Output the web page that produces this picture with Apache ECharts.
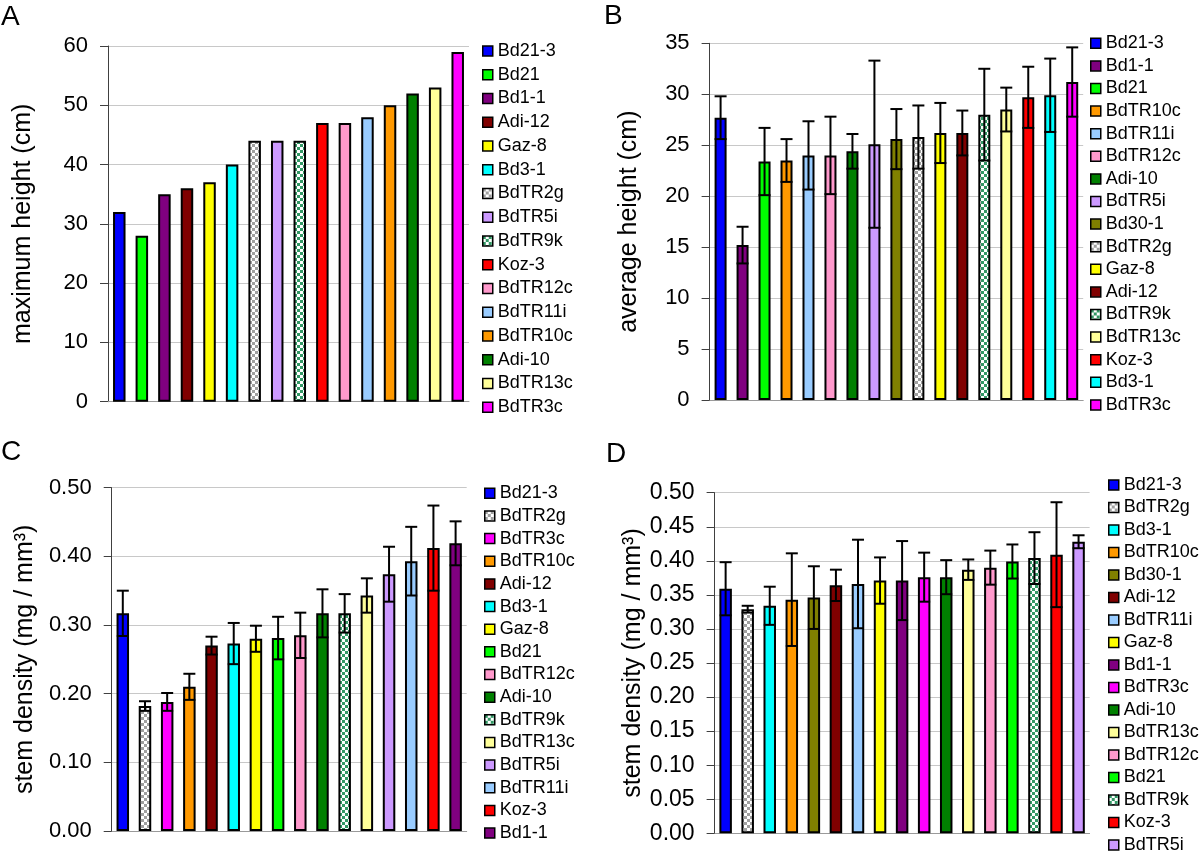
<!DOCTYPE html>
<html><head><meta charset="utf-8">
<script src="https://cdn.jsdelivr.net/npm/echarts@6/dist/echarts.min.js"></script>
<style>html,body{margin:0;padding:0;background:#fff}#c{width:1200px;height:855px}</style>
</head><body><div id="c"></div>
<script>
// ---------- Panel A: maximum height (cm) ----------
const namesA = ['Bd21-3','Bd21','Bd1-1','Adi-12','Gaz-8','Bd3-1','BdTR2g','BdTR5i','BdTR9k','Koz-3','BdTR12c','BdTR11i','BdTR10c','Adi-10','BdTR13c','BdTR3c'];
const valuesA = [32, 28, 35, 36, 37, 40, 44, 44, 44, 47, 47, 48, 50, 52, 53, 59];
const ticksA = [0, 10, 20, 30, 40, 50, 60];

// ---------- Panel B: average height (cm) ----------
const namesB = ['Bd21-3','Bd1-1','Bd21','BdTR10c','BdTR11i','BdTR12c','Adi-10','BdTR5i','Bd30-1','BdTR2g','Gaz-8','Adi-12','BdTR9k','BdTR13c','Koz-3','Bd3-1','BdTR3c'];
const valuesB = [27.7, 15.2, 23.4, 23.5, 24.0, 24.0, 24.4, 25.1, 25.6, 25.8, 26.2, 26.2, 28.0, 28.5, 29.7, 29.9, 31.2];
const errorsB = [2.1, 1.8, 3.3, 2.1, 3.35, 3.8, 1.7, 8.2, 2.95, 3.1, 2.95, 2.2, 4.5, 2.15, 3.0, 3.6, 3.4];
const ticksB = [0, 5, 10, 15, 20, 25, 30, 35];

// ---------- Panel C: stem density (mg / mm3) ----------
const namesC = ['Bd21-3','BdTR2g','BdTR3c','BdTR10c','Adi-12','Bd3-1','Gaz-8','Bd21','BdTR12c','Adi-10','BdTR9k','BdTR13c','BdTR5i','BdTR11i','Koz-3','Bd1-1'];
const valuesC = [0.317, 0.182, 0.188, 0.210, 0.270, 0.273, 0.280, 0.281, 0.285, 0.317, 0.317, 0.343, 0.374, 0.393, 0.412, 0.419];
const errorsC = [0.033, 0.007, 0.013, 0.019, 0.013, 0.030, 0.019, 0.031, 0.033, 0.035, 0.028, 0.025, 0.040, 0.050, 0.062, 0.032];
const ticksC = [0.0, 0.1, 0.2, 0.3, 0.4, 0.5];

// ---------- Panel D: stem density (mg / mm3) ----------
const namesD = ['Bd21-3','BdTR2g','Bd3-1','BdTR10c','Bd30-1','Adi-12','BdTR11i','Gaz-8','Bd1-1','BdTR3c','Adi-10','BdTR13c','BdTR12c','Bd21','BdTR9k','Koz-3','BdTR5i'];
const valuesD = [0.359, 0.329, 0.334, 0.343, 0.346, 0.364, 0.366, 0.371, 0.371, 0.376, 0.376, 0.387, 0.390, 0.399, 0.404, 0.409, 0.428];
const errorsD = [0.039, 0.005, 0.028, 0.068, 0.046, 0.023, 0.065, 0.034, 0.058, 0.036, 0.025, 0.015, 0.025, 0.025, 0.038, 0.077, 0.0095];
const ticksD = [0.00, 0.05, 0.10, 0.15, 0.20, 0.25, 0.30, 0.35, 0.40, 0.45, 0.50];

const FONT = '"Liberation Sans", Arial, Helvetica, sans-serif';

function checker(c1, c2, s) {
  const cv = document.createElement('canvas');
  cv.width = cv.height = 2 * s;
  const ctx = cv.getContext('2d');
  ctx.fillStyle = c2; ctx.fillRect(0, 0, 2 * s, 2 * s);
  ctx.fillStyle = c1; ctx.fillRect(0, 0, s, s); ctx.fillRect(s, s, s, s);
  return { image: cv, repeat: 'repeat' };
}

const fills = {
  'Bd21-3': '#0000ff', 'Bd21': '#00ff00', 'Bd1-1': '#800080', 'Adi-12': '#800000',
  'Gaz-8': '#ffff00', 'Bd3-1': '#00ffff', 'BdTR2g': checker('#a0a0a0', '#ffffff', 3),
  'BdTR5i': '#cc99ff', 'BdTR9k': checker('#339966', '#ffffff', 3), 'Koz-3': '#ff0000',
  'BdTR12c': '#ff99cc', 'BdTR11i': '#99ccff', 'BdTR10c': '#ff9900', 'Adi-10': '#008000',
  'BdTR13c': '#ffff99', 'BdTR3c': '#ff00ff', 'Bd30-1': '#808000'
};

const panels = [
  { names: namesA, values: valuesA, errors: null, ticks: ticksA, dec: 0, title: 'maximum height (cm)',
    grid: { left: 108, top: 46, width: 361, height: 355.7 }, nameGap: 72, labelSize: 22, barWidth: 12.5,
    legend: { left: 482, top: 42, gap: 5.75 } },
  { names: namesB, values: valuesB, errors: errorsB, ticks: ticksB, dec: 0, title: 'average height (cm)',
    grid: { left: 709.6, top: 43.3, width: 373.6, height: 356.7 }, nameGap: 68, labelSize: 22, barWidth: 12,
    legend: { left: 1090, top: 34.3, gap: 4.6 } },
  { names: namesC, values: valuesC, errors: errorsC, ticks: ticksC, dec: 2, title: 'stem density (mg / mm³)',
    grid: { left: 111.7, top: 487.7, width: 355, height: 343.3 }, nameGap: 74, labelSize: 22, barWidth: 12.5,
    legend: { left: 484, top: 484.3, gap: 4.65 } },
  { names: namesD, values: valuesD, errors: errorsD, ticks: ticksD, dec: 2, title: 'stem density (mg / mm³)',
    grid: { left: 714.6, top: 492.7, width: 375, height: 340.6 }, nameGap: 68, labelSize: 23, barWidth: 12.5,
    legend: { left: 1108, top: 476, gap: 4.5 } }
];

const option = {
  animation: false,
  textStyle: { fontFamily: FONT },
  grid: [], xAxis: [], yAxis: [], legend: [], series: [],
  graphic: [
    { type: 'text', left: 1, top: 3, style: { text: 'A', font: '28px ' + FONT, fill: '#000' } },
    { type: 'text', left: 604, top: 2, style: { text: 'B', font: '28px ' + FONT, fill: '#000' } },
    { type: 'text', left: 1, top: 438, style: { text: 'C', font: '28px ' + FONT, fill: '#000' } },
    { type: 'text', left: 606, top: 440, style: { text: 'D', font: '28px ' + FONT, fill: '#000' } }
  ]
};

panels.forEach((p, k) => {
  option.grid.push(Object.assign({ containLabel: false }, p.grid));
  option.xAxis.push({
    type: 'category', gridIndex: k, data: p.names,
    axisLine: { show: true, lineStyle: { color: '#9a9a9a', width: 1 } },
    axisTick: { show: false }, axisLabel: { show: false }, splitLine: { show: false }
  });
  option.yAxis.push({
    type: 'value', gridIndex: k,
    min: p.ticks[0], max: p.ticks[p.ticks.length - 1], interval: p.ticks[1] - p.ticks[0],
    axisLine: { show: true, lineStyle: { color: '#404040', width: 1 } },
    axisTick: { show: true, length: 8, lineStyle: { color: '#404040' } },
    splitLine: { show: true, lineStyle: { color: '#c8c8c8', width: 1 } },
    axisLabel: { fontSize: p.labelSize, color: '#000', margin: 20, fontFamily: FONT,
      formatter: v => Number(v).toFixed(p.dec) },
    name: p.title, nameLocation: 'middle', nameGap: p.nameGap,
    nameTextStyle: { fontSize: 25, color: '#000', fontFamily: FONT }
  });
  option.legend.push({
    orient: 'vertical', left: p.legend.left, top: p.legend.top, padding: 0,
    itemWidth: 10, itemHeight: 10, itemGap: p.legend.gap, icon: 'rect', selectedMode: false,
    itemStyle: { borderColor: '#000', borderWidth: 1.5 },
    textStyle: { fontSize: 18, color: '#000', lineHeight: 18, fontFamily: FONT },
    data: p.names
  });
  p.names.forEach((nm, i) => {
    option.series.push({
      type: 'bar', name: nm, xAxisIndex: k, yAxisIndex: k,
      data: p.names.map((_, j) => (j === i ? p.values[i] : '-')),
      barWidth: p.barWidth, barGap: '-100%',
      itemStyle: { color: fills[nm], borderColor: '#000', borderWidth: 2 },
      emphasis: { disabled: true }
    });
  });
  if (p.errors) {
    option.series.push({
      type: 'custom', xAxisIndex: k, yAxisIndex: k, z: 10, silent: true,
      data: p.values.map((v, i) => [i, v, p.errors[i]]),
      encode: { x: 0, y: 1 },
      renderItem: (params, api) => {
        const x = api.value(0), v = api.value(1), e = api.value(2);
        const t = api.coord([x, v + e]), b = api.coord([x, v - e]);
        const hw = 6;
        const st = { stroke: '#000', lineWidth: 2 };
        return { type: 'group', children: [
          { type: 'line', shape: { x1: t[0], y1: t[1], x2: b[0], y2: b[1] }, style: st },
          { type: 'line', shape: { x1: t[0] - hw, y1: t[1], x2: t[0] + hw, y2: t[1] }, style: st },
          { type: 'line', shape: { x1: b[0] - hw, y1: b[1], x2: b[0] + hw, y2: b[1] }, style: st }
        ] };
      }
    });
  }
});

const chart = echarts.init(document.getElementById('c'), null, { renderer: 'canvas' });
chart.setOption(option);
</script>
</body></html>
